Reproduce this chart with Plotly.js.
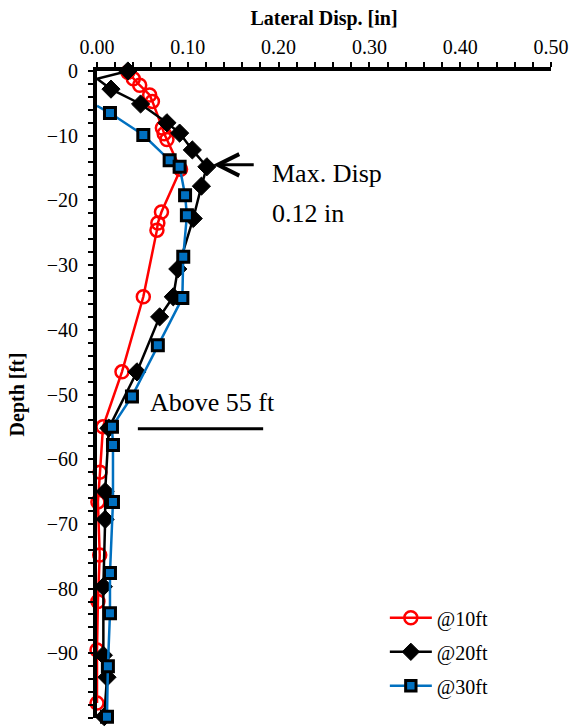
<!DOCTYPE html>
<html>
<head>
<meta charset="utf-8">
<script src="https://cdn.plot.ly/plotly-3.0.1.min.js"></script>
<style>html,body{margin:0;padding:0;background:#fff}#chart{width:579px;height:727px}</style>
</head>
<body>
<div id="chart"></div>
<script>
// ---- data ----
const seriesNames = ['@10ft', '@20ft', '@30ft'];

const depth10 = [-0.2, -1.2, -2.2, -3.7, -4.7, -8.8, -9.7, -10.6, -15.2, -21.8, -23.5, -24.6, -34.9, -46.5, -55.0, -62.0, -66.6, -74.8, -82.0, -89.5, -97.7];
const disp10  = [0.034, 0.040, 0.047, 0.058, 0.061, 0.072, 0.074, 0.077, 0.092, 0.071, 0.067, 0.066, 0.051, 0.0275, 0.0066, 0.0033, 0.001, 0.003, 0.001, 0.0, 0.0];

const depth20 = [0, -1.2, -2.8, -5.1, -8.0, -9.6, -12.2, -14.8, -17.8, -22.8, -30.6, -34.9, -38.0, -46.5, -55.2, -65.0, -69.3, -79.7, -90.3, -93.7, -99.8];
const disp20  = [0.034, 0.0, 0.0154, 0.048, 0.077, 0.091, 0.105, 0.121, 0.115, 0.106, 0.089, 0.084, 0.069, 0.044, 0.013, 0.009, 0.009, 0.007, 0.007, 0.011, 0.008];

const depth30 = [-5.4, -6.5, -9.9, -13.8, -14.8, -19.2, -22.3, -28.7, -35.1, -42.4, -50.3, -55.0, -57.8, -66.6, -77.6, -83.8, -92.0, -99.8];
const disp30  = [0.0, 0.0143, 0.051, 0.080, 0.091, 0.097, 0.099, 0.095, 0.094, 0.067, 0.0385, 0.0165, 0.0176, 0.0176, 0.0143, 0.0143, 0.012, 0.011];

// points drawn without a marker in the reference (line vertex only)
const noMarker20 = [1];
const noMarker30 = [0];

const xTickVals = [0, 0.1, 0.2, 0.3, 0.4, 0.5];
const yTickVals = [0, -10, -20, -30, -40, -50, -60, -70, -80, -90, -100];

// ---- drawing ----
const FONT = '"Liberation Serif", serif';
function sizes(n, base, hidden) {
  return Array.from({length: n}, (_, i) => hidden.includes(i) ? 0 : base);
}

const traces = [
  {
    x: disp10, y: depth10, name: seriesNames[0], mode: 'lines+markers', cliponaxis: false,
    legendgroup: 'a',
    line: {color: '#FF0000', width: 2.5},
    marker: {symbol: 'circle-open', size: 13, opacity: 1, color: '#FF0000', line: {color: '#FF0000', width: 2.5}}
  },
  {
    x: disp20, y: depth20, name: seriesNames[1], mode: 'lines+markers', cliponaxis: false,
    legendgroup: 'b',
    line: {color: '#000000', width: 2.5},
    marker: {symbol: 'diamond', size: sizes(disp20.length, 14, noMarker20), opacity: 1, color: '#000000', line: {color: '#000000', width: 1}}
  },
  {
    x: disp30, y: depth30, name: seriesNames[2], mode: 'lines+markers', cliponaxis: false,
    legendgroup: 'c',
    line: {color: '#0070C0', width: 2.5},
    marker: {symbol: 'square', size: sizes(disp30.length, 11, noMarker30), opacity: 1, color: '#0070C0', line: {color: '#000000', width: 3}}
  }
];

const layout = {
  width: 579, height: 727,
  margin: {l: 97, r: 28, t: 71, b: 9},
  paper_bgcolor: '#ffffff', plot_bgcolor: '#ffffff',
  font: {family: FONT, color: '#000000', size: 19},
  showlegend: true,
  legend: {
    x: 0.634, xanchor: 'left', y: 0.185, yanchor: 'top',
    traceorder: 'grouped', tracegroupgap: 5, itemwidth: 42,
    bgcolor: 'rgba(0,0,0,0)',
    font: {family: FONT, size: 20, color: '#000000'}
  },
  xaxis: {
    side: 'top', range: [0, 0.5], tickmode: 'array', tickvals: xTickVals,
    ticktext: xTickVals.map(v => v.toFixed(2)),
    ticks: 'outside', ticklen: 5, tickwidth: 2, tickcolor: '#000',
    minor: {dtick: 0.02, tick0: 0, ticks: 'outside', ticklen: 5, tickwidth: 2, tickcolor: '#000'},
    showline: true, linewidth: 4, linecolor: '#000', showgrid: false, zeroline: false,
    tickfont: {family: FONT, size: 20, color: '#000'},
    title: {text: '<b>Lateral Disp. [in]</b>', font: {family: FONT, size: 20, color: '#000'}, standoff: 6}
  },
  yaxis: {
    range: [-100, 0], tickmode: 'array', tickvals: yTickVals,
    ticks: 'outside', ticklen: 5, tickwidth: 2, tickcolor: '#000',
    minor: {dtick: 2, tick0: 0, ticks: 'outside', ticklen: 5, tickwidth: 2, tickcolor: '#000'},
    showline: true, linewidth: 4, linecolor: '#000', showgrid: false, zeroline: false,
    tickfont: {family: FONT, size: 20, color: '#000'},
    ticklabelstandoff: 6,
    title: {text: '<b>Depth [ft]</b>', font: {family: FONT, size: 20, color: '#000'}, standoff: 18}
  },
  shapes: [
    {type: 'line', xref: 'x', yref: 'y', x0: 0.045, x1: 0.183, y0: -55.3, y1: -55.3,
     line: {color: '#000', width: 3}}
  ],
  annotations: [
    {x: 0.128, y: -14.5, xref: 'x', yref: 'y', ax: 42, ay: 0, axref: 'pixel', ayref: 'pixel',
     text: '', showarrow: true, arrowhead: 5, arrowsize: 1.4, arrowwidth: 3, arrowcolor: '#000', standoff: 0},
    {x: 0.190, y: -15.8, xref: 'x', yref: 'y', xanchor: 'left', yanchor: 'middle', showarrow: false,
     text: 'Max. Disp', font: {family: FONT, size: 26, color: '#000'}},
    {x: 0.190, y: -22.0, xref: 'x', yref: 'y', xanchor: 'left', yanchor: 'middle', showarrow: false,
     text: '0.12 in', font: {family: FONT, size: 26, color: '#000'}},
    {x: 0.056, y: -51.2, xref: 'x', yref: 'y', xanchor: 'left', yanchor: 'middle', showarrow: false,
     text: 'Above 55 ft', font: {family: FONT, size: 26, color: '#000'}}
  ]
};

Plotly.newPlot('chart', traces, layout, {displayModeBar: false, staticPlot: true});
</script>
</body>
</html>
